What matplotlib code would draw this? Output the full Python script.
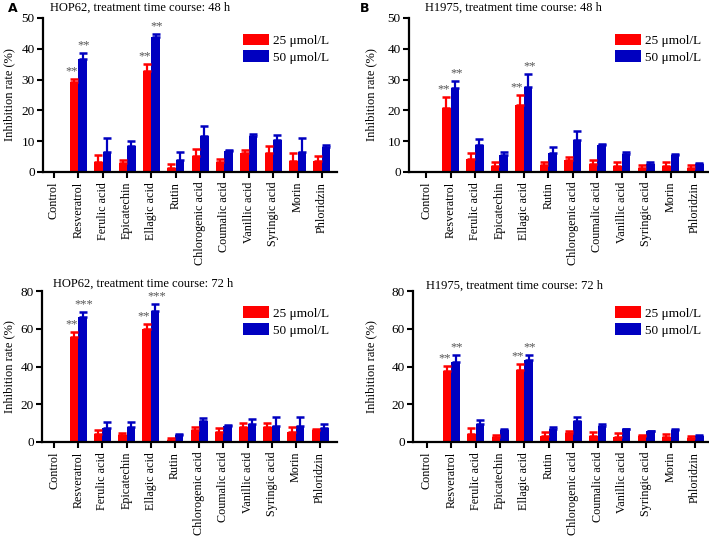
import numpy as np
import matplotlib
matplotlib.use("Agg")
import matplotlib.pyplot as plt

plt.rcParams['font.family'] = ['Liberation Serif', 'DejaVu Serif']

# Compounds on the x axis
compounds = ['Control', 'Resveratrol', 'Ferulic acid', 'Epicatechin', 'Ellagic acid',
             'Rutin', 'Chlorogenic acid', 'Coumalic acid', 'Vanillic acid',
             'Syringic acid', 'Morin', 'Phloridzin']

# HOP62, 48 h
hop48_25 = [0, 29.3, 3.3, 2.9, 32.7, 1.3, 5.2, 3.3, 6.2, 6.2, 3.7, 3.7]
hop48_25_err = [0, 0.9, 2.1, 1.1, 2.4, 1.2, 2.2, 1.0, 1.1, 2.2, 2.5, 1.4]
hop48_50 = [0, 36.6, 6.5, 8.5, 43.7, 3.9, 11.8, 6.8, 11.6, 10.5, 6.5, 8.2]
hop48_50_err = [0, 2.0, 4.4, 1.5, 1.1, 2.6, 3.1, 0.2, 0.6, 1.5, 4.6, 0.7]

# H1975, 48 h
h48_25 = [0, 20.9, 4.2, 2.0, 21.7, 2.2, 3.8, 2.7, 1.8, 1.4, 2.0, 1.4]
h48_25_err = [0, 3.3, 1.9, 1.1, 3.3, 1.1, 1.2, 1.2, 1.5, 0.9, 1.1, 0.9]
h48_50 = [0, 27.2, 8.8, 5.6, 27.5, 6.1, 10.4, 8.8, 5.8, 2.7, 5.6, 2.5]
h48_50_err = [0, 2.2, 1.8, 1.0, 4.4, 1.9, 2.8, 0.3, 0.8, 0.7, 0.2, 0.4]

# HOP62, 72 h
hop72_25 = [0, 55.5, 4.3, 3.8, 59.7, 1.2, 6.4, 5.4, 7.8, 7.8, 5.2, 6.4]
hop72_25_err = [0, 3.0, 2.1, 1.2, 2.9, 0.9, 1.8, 1.9, 2.3, 2.1, 3.0, 0.7]
hop72_50 = [0, 66.1, 7.3, 7.7, 69.4, 3.7, 11.3, 8.7, 9.4, 8.7, 8.3, 7.3]
hop72_50_err = [0, 3.0, 3.3, 3.1, 3.6, 0.3, 1.2, 0.5, 2.6, 4.3, 4.7, 2.3]

# H1975, 72 h
h72_25 = [0, 37.5, 4.4, 2.6, 38.2, 3.0, 4.7, 3.0, 2.6, 3.3, 2.6, 2.1]
h72_25_err = [0, 2.8, 3.0, 1.3, 3.0, 2.1, 1.3, 2.3, 2.1, 0.6, 1.8, 0.9]
h72_50 = [0, 42.5, 9.6, 6.5, 43.5, 7.0, 10.9, 8.6, 6.8, 5.6, 6.1, 3.3]
h72_50_err = [0, 3.7, 2.2, 0.3, 2.7, 1.2, 2.3, 1.0, 0.1, 0.4, 0.7, 0.4]

stars_48 = {1: ('**', '**'), 4: ('**', '**')}
stars_hop72 = {1: ('**', '***'), 4: ('**', '***')}
stars_h72 = {1: ('**', '**'), 4: ('**', '**')}

red = '#ff0000'
blue = '#0000c0'
bw = 0.35


def panel(rect, xlim, ymax, ystep, v25, e25, v50, e50, stars, title, title_pos, ylabel_x):
    ax = fig.add_axes(rect)
    x = np.arange(len(compounds))
    z = np.zeros(len(compounds))
    ax.bar(x - bw / 2, v25, bw, color=red, label='25 μmol/L')
    ax.bar(x + bw / 2, v50, bw, color=blue, label='50 μmol/L')
    ax.errorbar(x - bw / 2, v25, yerr=[z, e25], fmt='none', ecolor=red,
                elinewidth=1.6, capsize=3.2, capthick=1.8)
    ax.errorbar(x + bw / 2, v50, yerr=[z, e50], fmt='none', ecolor=blue,
                elinewidth=1.6, capsize=3.2, capthick=1.8)
    for i, (s1, s2) in stars.items():
        ax.annotate(s1, (i - bw / 2, v25[i] + e25[i]), xytext=(-2, 5.5),
                    textcoords='offset points', ha='center', va='center',
                    fontsize=9, color='#555555')
        ax.annotate(s2, (i + bw / 2, v50[i] + e50[i]), xytext=(1, 5.5),
                    textcoords='offset points', ha='center', va='center',
                    fontsize=9, color='#555555')
    ax.set_xlim(*xlim)
    ax.set_ylim(0, ymax)
    ax.set_yticks(np.arange(0, ymax + 1, ystep))
    ax.set_xticks(x)
    ax.set_xticklabels(compounds, rotation=90, fontsize=8.7)
    ax.tick_params(axis='y', labelsize=9.5, width=1.5, length=4, pad=2)
    ax.tick_params(axis='x', width=1.5, length=4, pad=3)
    for s in ['top', 'right']:
        ax.spines[s].set_visible(False)
    for s in ['left', 'bottom']:
        ax.spines[s].set_linewidth(1.6)
    ax.set_ylabel('Inhibition rate (%)', fontsize=9)
    ax.yaxis.set_label_coords(ylabel_x, 0.5)
    ax.legend(loc='upper right', bbox_to_anchor=(1.0, 0.95), frameon=False,
              fontsize=9.5, handlelength=2.0, handleheight=1.0,
              handletextpad=0.3, labelspacing=0.25, borderaxespad=0.2)
    fig.text(title_pos[0] / 709, 1 - title_pos[1] / 536, title,
             fontsize=9, va='center', ha='left')
    return ax


fig = plt.figure(figsize=(7.09, 5.36), dpi=100)

panel([43 / 709, 1 - 172 / 536, 294 / 709, 154 / 536], (-0.45, 11.62), 50, 10,
      hop48_25, hop48_25_err, hop48_50, hop48_50_err, stars_48,
      'HOP62, treatment time course: 48 h', (50, 8), -0.095)
panel([409 / 709, 1 - 172 / 536, 300 / 709, 154 / 536], (-0.7, 11.57), 50, 10,
      h48_25, h48_25_err, h48_50, h48_50_err, stars_48,
      'H1975, treatment time course: 48 h', (425, 8), -0.105)
panel([42 / 709, 1 - 442 / 536, 295 / 709, 151 / 536], (-0.5, 11.7), 80, 20,
      hop72_25, hop72_25_err, hop72_50, hop72_50_err, stars_hop72,
      'HOP62, treatment time course: 72 h', (53, 284), -0.092)
panel([413 / 709, 1 - 442 / 536, 296 / 709, 151 / 536], (-0.57, 11.57), 80, 20,
      h72_25, h72_25_err, h72_50, h72_50_err, stars_h72,
      'H1975, treatment time course: 72 h', (426, 286), -0.12)

fig.text(8 / 709, 1 - 8 / 536, 'A', fontsize=9, fontweight='bold',
         family='DejaVu Sans', va='center', ha='left')
fig.text(360 / 709, 1 - 8 / 536, 'B', fontsize=9, fontweight='bold',
         family='DejaVu Sans', va='center', ha='left')

fig.savefig('out.png', dpi=100)
